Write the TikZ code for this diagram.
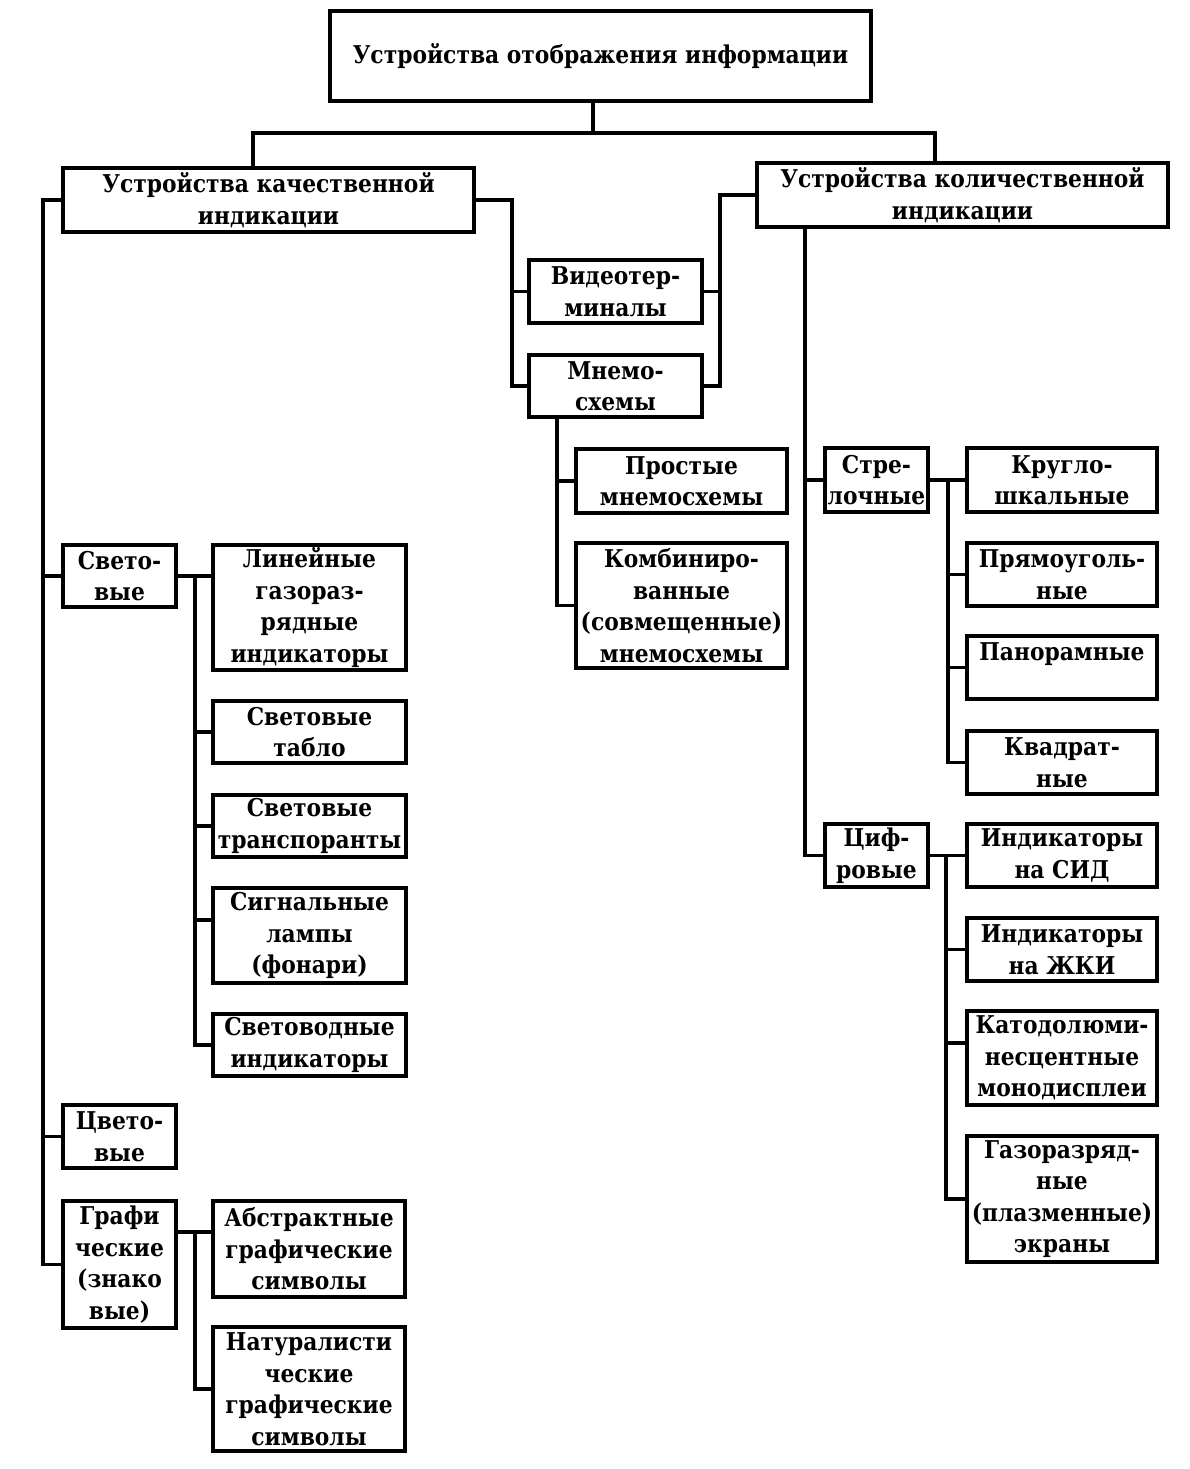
\documentclass[tikz,border=0pt]{standalone}
\usepackage{fontspec}
\setmainfont{DejaVu Serif}[FakeStretch=0.89]
\begin{document}
\begin{tikzpicture}[x=1pt,y=-1pt,
  box/.style={draw, line width=3.1pt, inner sep=0pt, align=center, anchor=center,
    font=\bfseries\fontsize{24.5}{31.5}\selectfont},
  conn/.style={line width=3.1pt, line join=miter}]
\newcommand\mybox[6]{%
  \pgfmathsetmacro\bw{#4-#2}\pgfmathsetmacro\bh{#5-#3}%
  \node[box,minimum width=\bw pt,minimum height=\bh pt] (#1) at ({(#2+#4)/2},{(#3+#5)/2}) {#6};}
\useasboundingbox (0,0) rectangle (1190,1469);
\fill[white] (0,0) rectangle (1190,1469);
% bus coordinates
\coordinate (j0) at (593,133);
\coordinate (jl) at (253,133);
\coordinate (jr) at (935,133);
\coordinate (xL) at (43,0);
\coordinate (xS) at (195,0);
\coordinate (xM) at (557,0);
\coordinate (xML) at (512,0);
\coordinate (xMR) at (720,0);
\coordinate (xR) at (805,0);
\coordinate (xST) at (948,0);
\coordinate (xCF) at (946,0);
% boxes
\mybox{top}{330}{11}{871}{101}{Устройства отображения информации}
\mybox{lq}{63}{168}{474}{232}{Устройства качественной\\индикации}
\mybox{rq}{757}{163}{1168}{227}{Устройства количественной\\индикации}
\mybox{vt}{529}{260}{702}{323}{Видеотер-\\миналы}
\mybox{mn}{529}{355}{702}{417}{Мнемо-\\схемы}
\mybox{pr}{576}{449}{787}{513}{Простые\\мнемосхемы}
\mybox{kom}{576}{543}{787}{668}{Комбиниро-\\ванные\\(совмещенные)\\мнемосхемы}
\mybox{st}{825}{448}{928}{512}{Стре-\\лочные}
\mybox{kr}{967}{448}{1157}{512}{Кругло-\\шкальные}
\mybox{pry}{967}{543}{1157}{606}{Прямоуголь-\\ные}
\mybox{pan}{967}{636}{1157}{699}{Панорамные\\\phantom{П}}
\mybox{kv}{967}{731}{1157}{794}{Квадрат-\\ные}
\mybox{cf}{825}{824}{928}{887}{Циф-\\ровые}
\mybox{sid}{967}{824}{1157}{887}{Индикаторы\\на СИД}
\mybox{zhki}{967}{918}{1157}{981}{Индикаторы\\на ЖКИ}
\mybox{kat}{967}{1011}{1157}{1105}{Катодолюми-\\несцентные\\монодисплеи}
\mybox{gaz}{967}{1136}{1157}{1262}{Газоразряд-\\ные\\(плазменные)\\экраны}
\mybox{sv}{63}{545}{176}{607}{Свето-\\вые}
\mybox{lin}{213}{545}{406}{670}{Линейные\\газораз-\\рядные\\индикаторы}
\mybox{tab}{213}{701}{406}{763}{Световые\\табло}
\mybox{tr}{213}{795}{406}{857}{Световые\\транспоранты}
\mybox{sig}{213}{888}{406}{983}{Сигнальные\\лампы\\(фонари)}
\mybox{svd}{213}{1014}{406}{1076}{Световодные\\индикаторы}
\mybox{cv}{63}{1105}{176}{1168}{Цвето-\\вые}
\mybox{gr}{63}{1201}{176}{1328}{Графи\\ческие\\(знако\\вые)}
\mybox{abs}{213}{1201}{405}{1297}{Абстрактные\\графические\\символы}
\mybox{nat}{213}{1327}{405}{1451}{Натуралисти\\ческие\\графические\\символы}
\coordinate (bsig) at (195,920);
\coordinate (bab) at (195,1232);
\coordinate (bkat) at (946,1043);
% connectors: top level
\draw[conn] (top.south -| j0) -- (j0);
\draw[conn] (jl |- lq.north) -- (jl) -- (jr) -- (jr |- rq.north);
% middle
\draw[conn] (lq.east) -| (mn.west -| xML) -- (mn.west);
\draw[conn] (vt.west -| xML) -- (vt.west);
\draw[conn] (rq.west) -| (mn.east -| xMR) -- (mn.east);
\draw[conn] (vt.east -| xMR) -- (vt.east);
\draw[conn] (mn.south -| xM) -- (kom.west -| xM) -- (kom.west);
\draw[conn] (pr.west -| xM) -- (pr.west);
% left trunk
\draw[conn] (lq.west) -- (lq.west -| xL) -- (gr.west -| xL) -- (gr.west);
\draw[conn] (sv.west -| xL) -- (sv.west);
\draw[conn] (cv.west -| xL) -- (cv.west);
% light
\draw[conn] (sv.east) -- (sv.east -| lin.west);
\draw[conn] (sv.east -| xS) -- (svd.west -| xS) -- (svd.west);
\draw[conn] (tab.west -| xS) -- (tab.west);
\draw[conn] (tr.west -| xS) -- (tr.west);
\draw[conn] (bsig) -- (bsig -| sig.west);
% graphic
\draw[conn] (bab -| gr.east) -- (bab -| abs.west);
\draw[conn] (bab) -- (nat.west -| bab) -- (nat.west);
% right trunk
\draw[conn] (rq.south -| xR) -- (cf.west -| xR) -- (cf.west);
\draw[conn] (st.west -| xR) -- (st.west);
% pointer
\draw[conn] (st.east) -- (st.east -| kr.west);
\draw[conn] (st.east -| xST) -- (kv.west -| xST) -- (kv.west);
\draw[conn] (pry.west -| xST) -- (pry.west);
\draw[conn] (pan.west -| xST) -- (pan.west);
% digital
\draw[conn] (cf.east) -- (cf.east -| sid.west);
\draw[conn] (cf.east -| xCF) -- (gaz.west -| xCF) -- (gaz.west);
\draw[conn] (zhki.west -| xCF) -- (zhki.west);
\draw[conn] (bkat) -- (bkat -| kat.west);
\end{tikzpicture}
\end{document}
